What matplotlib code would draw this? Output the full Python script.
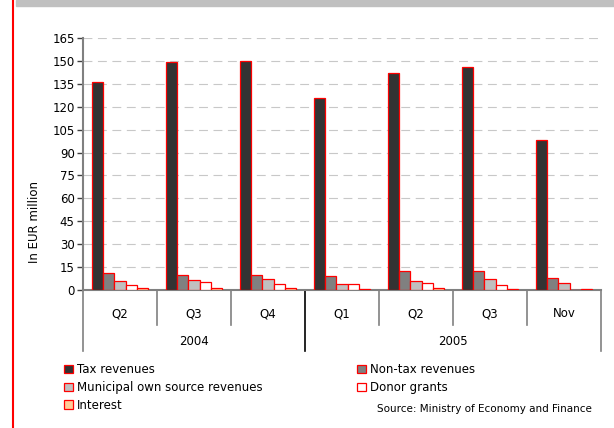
import matplotlib
matplotlib.use('Agg')
import matplotlib.pyplot as plt
import numpy as np
from matplotlib.patches import Rectangle
from matplotlib.lines import Line2D

# quarterly revenue, EUR million
periods = ['Q2', 'Q3', 'Q4', 'Q1', 'Q2', 'Q3', 'Nov']
years = ['2004', '2005']
year_spans = [3, 4]

tax = [136, 149.5, 150, 126, 142, 146, 98]
non_tax = [10.9, 9.6, 9.6, 8.9, 12.2, 12.2, 8.0]
municipal = [5.7, 6.3, 7.0, 3.7, 5.7, 7.0, 4.6]
donor = [3.0, 5.0, 3.7, 3.7, 4.6, 3.0, 0.0]
interest = [1.1, 1.1, 1.1, 0.4, 1.1, 0.4, 0.4]

series = [
    ('Tax revenues', tax, '#333333'),
    ('Non-tax revenues', non_tax, '#808080'),
    ('Municipal own source revenues', municipal, '#C0C0C0'),
    ('Donor grants', donor, '#FFFFFF'),
    ('Interest', interest, '#FFCC99'),
]

W, H = 614, 428
fig = plt.figure(figsize=(W / 100, H / 100), dpi=100)
ax = fig.add_axes([83 / W, 1 - 290 / H, 518 / W, 252 / H])

x = np.arange(len(periods))
bw = 0.15
handles = {}
for i, (name, vals, col) in enumerate(series):
    b = ax.bar(x + 0.125 + bw * i, vals, width=bw, align='edge', color=col,
               edgecolor='#FF0000', linewidth=0.9, label=name, zorder=3)
    handles[name] = b

ax.set_xlim(0, len(periods))
ax.set_ylim(0, 165)
ax.set_yticks(np.arange(0, 166, 15))
ax.yaxis.grid(True, color='#C8C8C8', linestyle=(0, (8, 5)), linewidth=0.8)
ax.set_axisbelow(True)
ax.set_xticks([])
for s in ['top', 'right']:
    ax.spines[s].set_visible(False)
ax.spines['left'].set_color('#808080')
ax.spines['left'].set_linewidth(1.5)
ax.spines['bottom'].set_color('#808080')
ax.spines['bottom'].set_linewidth(1.5)
ax.tick_params(axis='y', length=4, width=1, color='#404040', pad=2,
               labelsize=8.5)

# two-level category axis
tr = ax.get_xaxis_transform()
for i, p in enumerate(periods):
    ax.text(i + 0.5, -0.095, p, transform=tr, ha='center', va='center',
            fontsize=8.5)
pos = 0
edges = [0]
for yr, span in zip(years, year_spans):
    ax.text(pos + span / 2, -0.206, yr, transform=tr, ha='center',
            va='center', fontsize=8.5)
    pos += span
    edges.append(pos)
for i in range(len(periods) + 1):
    if i in edges:
        col = '#808080' if i in (0, len(periods)) else '#000000'
        ax.add_line(Line2D([i, i], [0, -0.242], transform=tr, color=col,
                           linewidth=1.2, clip_on=False))
    else:
        ax.add_line(Line2D([i, i], [0, -0.139], transform=tr,
                           color='#808080', linewidth=1.2, clip_on=False))

fig.text(35 / W, 1 - 222 / H, 'In EUR million', rotation=90, ha='center',
         va='center', fontsize=8.5)

# legend in two columns
col1 = ['Tax revenues', 'Municipal own source revenues', 'Interest']
col2 = ['Non-tax revenues', 'Donor grants']
for names, x0 in [(col1, 64), (col2, 357)]:
    fig.legend([handles[n] for n in names], names, loc='upper left',
               bbox_to_anchor=(x0 / W, 1 - 363 / H), frameon=False,
               fontsize=8.5, borderpad=0, borderaxespad=0,
               handlelength=0.75, handleheight=0.75, handletextpad=0.35,
               labelspacing=0.42)

fig.text(377 / W, 1 - 409 / H, 'Source: Ministry of Economy and Finance',
         ha='left', va='center', fontsize=7.5)

# page decorations
fig.patches.append(Rectangle((16 / W, 1 - 6 / H), 1, 6 / H,
                             transform=fig.transFigure, color='#C0C0C0'))
fig.add_artist(Line2D([13 / W, 13 / W], [0, 1], transform=fig.transFigure,
                      color='#FF0000', linewidth=1.5))

fig.savefig('out.png', dpi=100)
